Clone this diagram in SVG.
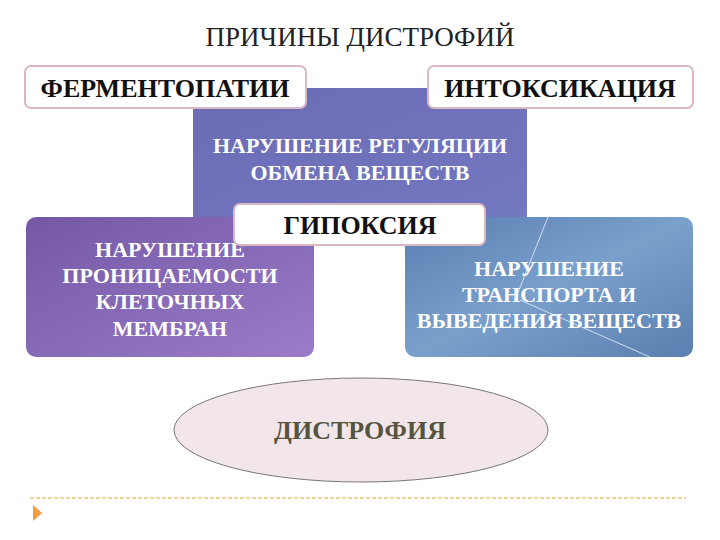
<svg xmlns="http://www.w3.org/2000/svg" width="720" height="540" viewBox="0 0 720 540">
<defs>
<linearGradient id="gc" x1="0" y1="0" x2="1" y2="1"><stop offset="0" stop-color="#6a6cb4"/><stop offset="1" stop-color="#7478c0"/></linearGradient>
<linearGradient id="gl" x1="0" y1="0" x2="1" y2="1"><stop offset="0" stop-color="#7458a6"/><stop offset="1" stop-color="#9a7cc8"/></linearGradient>
<linearGradient id="gr" x1="0" y1="0" x2="1" y2="1"><stop offset="0" stop-color="#5a7db0"/><stop offset="0.5" stop-color="#7aa0cc"/><stop offset="1" stop-color="#5a7fb0"/></linearGradient>
<style>
.lbl{fill:#fff;stroke:#d9b8c4;stroke-width:2}
.bt{font-family:"Liberation Serif",serif;font-weight:bold;text-anchor:middle}
.dk{fill:#111;font-size:26px}
.wh{fill:#fff;font-size:22px}
</style>
</defs>
<text x="360" y="46" font-family="Liberation Serif, serif" font-size="27" text-anchor="middle" fill="#222">ПРИЧИНЫ  ДИСТРОФИЙ</text>
<g id="center">
<rect x="193" y="88" width="334" height="140" rx="10" fill="url(#gc)"/>
<text class="bt wh" x="360" y="153">НАРУШЕНИЕ  РЕГУЛЯЦИИ</text>
<text class="bt wh" x="360" y="180">ОБМЕНА  ВЕЩЕСТВ</text>
</g>
<g id="left">
<rect x="26" y="217" width="288" height="140" rx="10" fill="url(#gl)"/>
<text class="bt wh" x="170" y="257">НАРУШЕНИЕ</text>
<text class="bt wh" x="170" y="283">ПРОНИЦАЕМОСТИ</text>
<text class="bt wh" x="170" y="309">КЛЕТОЧНЫХ</text>
<text class="bt wh" x="170" y="336">МЕМБРАН</text>
</g>
<g id="right">
<rect x="405" y="217" width="288" height="140" rx="10" fill="url(#gr)"/>
<line x1="548" y1="217" x2="515" y2="300" stroke="#cfe0f0" stroke-width="1"/>
<line x1="520" y1="300" x2="650" y2="357" stroke="#cfe0f0" stroke-width="1"/>
<text class="bt wh" x="549" y="276">НАРУШЕНИЕ</text>
<text class="bt wh" x="549" y="302">ТРАНСПОРТА И</text>
<text class="bt wh" x="549" y="328">ВЫВЕДЕНИЯ ВЕЩЕСТВ</text>
</g>
<g id="ferm">
<rect class="lbl" x="25" y="66" width="281" height="42" rx="6"/>
<text class="bt dk" x="165" y="97">ФЕРМЕНТОПАТИИ</text>
</g>
<g id="intox">
<rect class="lbl" x="428" y="66" width="265" height="42" rx="6"/>
<text class="bt dk" x="560" y="97">ИНТОКСИКАЦИЯ</text>
</g>
<g id="hypox">
<rect class="lbl" x="234" y="204" width="251" height="41" rx="6"/>
<text class="bt dk" x="360" y="234" font-size="25">ГИПОКСИЯ</text>
</g>
<g id="dystr">
<ellipse cx="361" cy="430" rx="187" ry="52" fill="#f3e6ea" stroke="#777" stroke-width="1"/>
<text x="360" y="439" font-family="Liberation Serif, serif" font-weight="bold" font-size="26" text-anchor="middle" fill="#55553f">ДИСТРОФИЯ</text>
</g>
<g id="footer">
<line x1="30" y1="498" x2="686" y2="498" stroke="#f0c878" stroke-width="1.5" stroke-dasharray="4,2"/>
<polygon points="33,505 42,513 33,521" fill="#f39a3a"/>
</g>
</svg>
